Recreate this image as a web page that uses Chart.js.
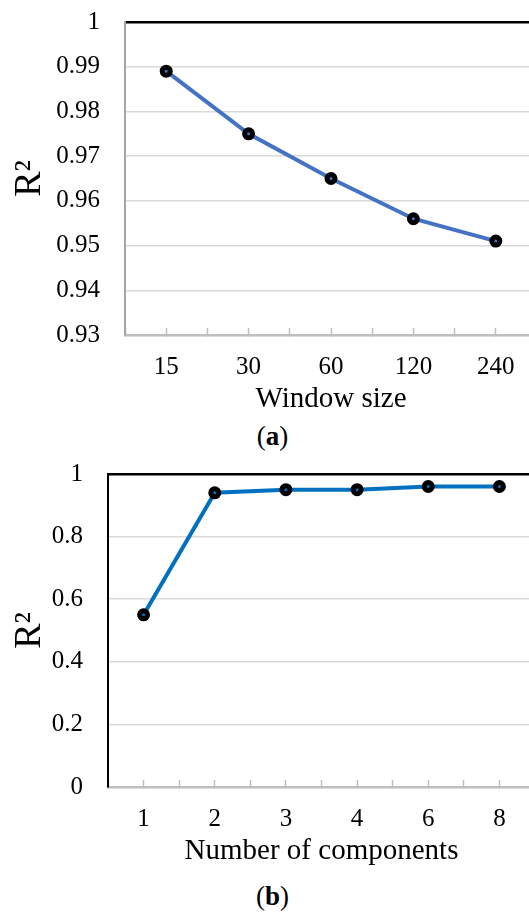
<!DOCTYPE html>
<html>
<head>
<meta charset="utf-8">
<script src="https://cdn.jsdelivr.net/npm/chart.js@4.4.1/dist/chart.umd.min.js"></script>
<style>
  html, body { margin: 0; padding: 0; background: #fff; overflow: hidden; }
  body { width: 529px; height: 912px; position: relative; }
  canvas { position: absolute; left: 0; }
  .cap {
    position: absolute; left: 0; width: 545px; text-align: center;
    font-family: "Liberation Serif", serif; font-size: 27px; color: #000;
  }
</style>
</head>
<body>
<canvas id="chart-a" width="561" height="420" style="top:0"></canvas>
<canvas id="chart-b" width="559" height="420" style="top:452px"></canvas>
<div class="cap" style="top:421px">(<b>a</b>)</div>
<div class="cap" style="top:881px">(<b>b</b>)</div>
<script>
const windowSizes = ["15", "30", "60", "120", "240"];
const r2ByWindow = [0.989, 0.975, 0.965, 0.956, 0.951];

const componentCounts = ["1", "2", "3", "4", "6", "8"];
const r2ByComponents = [0.55, 0.94, 0.95, 0.95, 0.96, 0.96];

// y axis ranges: [min, max, step]
const yRangeA = [0.93, 1, 0.01];
const yRangeB = [0, 1, 0.2];

const SERIF = "'Liberation Serif', 'Times New Roman', serif";

function makeChart(canvasId, opts) {
  const canvas = document.getElementById(canvasId);
  const labels = opts.labels;
  const [yMin, yMax, yStep] = opts.yRange;

  return new Chart(canvas, {
    type: "line",
    data: {
      datasets: [
        {
          data: opts.values.map((v, i) => ({ x: i, y: v })),
          borderColor: opts.color,
          borderWidth: 4,
          tension: 0,
          pointRadius: 4,
          pointBorderWidth: 5,
          pointBorderColor: "#000",
          pointBackgroundColor: opts.color,
        },
      ],
    },
    options: {
      responsive: false,
      animation: false,
      // x tick padding (24) also ends up as right-side padding of the chart area
      layout: { padding: { top: 22, left: 0, right: 0, bottom: 0 } },
      plugins: { legend: { display: false }, tooltip: { enabled: false } },
      scales: {
        x: {
          type: "linear",
          min: -0.5,
          max: labels.length - 0.5,
          afterFit: (s) => { s.height = 85; },
          border: { color: "#bfbfbf", width: 2.5 },
          grid: {
            drawOnChartArea: false,
            drawTicks: true,
            tickLength: -7,
            tickColor: "#bfbfbf",
            tickWidth: 1.5,
          },
          ticks: {
            stepSize: 0.5,
            autoSkip: false,
            maxRotation: 0,
            padding: 24,
            color: "#000",
            font: { family: SERIF, size: 25 },
            callback: (v) => (Number.isInteger(v) ? labels[v] : ""),
          },
          title: {
            display: true,
            text: opts.xTitle,
            color: "#000",
            font: { family: SERIF, size: 29 },
            padding: { top: 0, bottom: 3 },
          },
        },
        y: {
          min: yMin,
          max: yMax,
          afterFit: (s) => { s.width = opts.yWidth; },
          border: { color: opts.yAxisColor, width: 2 },
          grid: {
            drawTicks: true,
            tickLength: 21,
            tickColor: "rgba(0,0,0,0)",
            color: (ctx) => (ctx.tick && ctx.tick.value === yMax ? "#000" : "#d9d9d9"),
            lineWidth: (ctx) => (ctx.tick && ctx.tick.value === yMax ? 2.5 : 1.5),
          },
          ticks: {
            stepSize: yStep,
            padding: 4,
            color: "#000",
            font: { family: SERIF, size: 25 },
            callback: (v) => String(parseFloat(v.toFixed(2))),
          },
          title: {
            display: true,
            text: "R²",
            color: "#000",
            font: { family: SERIF, size: 38 },
            padding: { top: 7, bottom: 0 },
          },
        },
      },
    },
  });
}

makeChart("chart-a", {
  labels: windowSizes,
  values: r2ByWindow,
  yRange: yRangeA,
  color: "#4472C4",
  xTitle: "Window size",
  yWidth: 125,
  yAxisColor: "#a6a6a6",
});

makeChart("chart-b", {
  labels: componentCounts,
  values: r2ByComponents,
  yRange: yRangeB,
  color: "#0070C0",
  xTitle: "Number of components",
  yWidth: 108,
  yAxisColor: "#000",
});
</script>
</body>
</html>
